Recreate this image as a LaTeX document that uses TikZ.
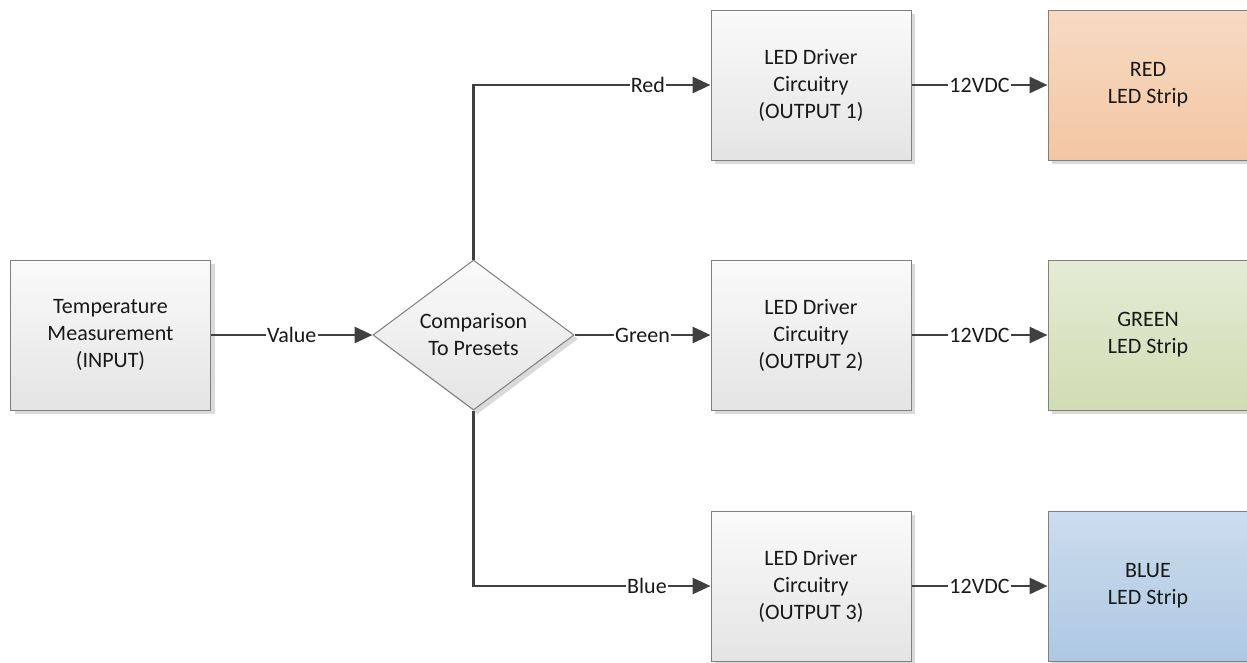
\documentclass[tikz,border=0pt]{standalone}
\usepackage{fontspec}
\setmainfont{Carlito}
\usetikzlibrary{arrows.meta,shapes.geometric,shadows}
\definecolor{linec}{HTML}{404040}
\definecolor{boxborder}{HTML}{7F7F7F}
\definecolor{shadowc}{HTML}{DADADA}
\definecolor{greytop}{HTML}{FAFAFA}
\definecolor{greybot}{HTML}{E4E4E4}
\definecolor{redtop}{HTML}{F8DAC2}
\definecolor{redbot}{HTML}{F2C6A3}
\definecolor{greentop}{HTML}{E4ECD5}
\definecolor{greenbot}{HTML}{D0DCB4}
\definecolor{bluetop}{HTML}{CBDCED}
\definecolor{bluebot}{HTML}{AEC8E2}
\begin{document}
\begin{tikzpicture}[x=0.75pt,y=-0.75pt,
  every node/.style={font=\fontsize{16.5}{20.25}\selectfont, text=black!90},
  box/.style={draw=boxborder, line width=0.75pt, minimum width=150pt, minimum height=112.5pt,
    inner sep=0pt, align=center, top color=greytop, bottom color=greybot,
    general shadow={fill=shadowc, shadow xshift=3pt, shadow yshift=-3pt}},
  strip/.style={box, top color=#1top, bottom color=#1bot},
  decision/.style={diamond, draw=boxborder, line width=0.75pt, aspect=1.34,
    minimum width=150.75pt, minimum height=112.5pt, inner sep=0pt, align=center,
    top color=greytop, bottom color=greybot,
    general shadow={fill=shadowc, shadow xshift=3pt, shadow yshift=-3pt}},
  conn/.style={draw=linec, line width=2.2pt, -{Triangle[length=13.5pt,width=12pt]}},
  lbl/.style={fill=white, inner sep=1pt}]
\fill[white] (0,0) rectangle (1247,662);
\useasboundingbox (0,0) rectangle (1247,662);

\node[box] (temp) at (110.5,335) {Temperature\\Measurement\\(INPUT)};
\node[decision] (cmp) at (473.5,335) {Comparison\\To Presets};

\node[box] (d1) at (811,85) {LED Driver\\Circuitry\\(OUTPUT 1)};
\node[box] (d2) at (811,335) {LED Driver\\Circuitry\\(OUTPUT 2)};
\node[box] (d3) at (811,586) {LED Driver\\Circuitry\\(OUTPUT 3)};

\node[strip=red] (s1) at (1148,85) {RED\\LED Strip};
\node[strip=green] (s2) at (1148,335) {GREEN\\LED Strip};
\node[strip=blue] (s3) at (1148,586) {BLUE\\LED Strip};

\draw[conn] (temp.east) -- node[lbl] {Value} (cmp.west);
\draw[conn] (cmp.north) |- node[lbl, pos=0.868] {Red} (d1.west);
\draw[conn] (cmp.east) -- node[lbl] {Green} (d2.west);
\draw[conn] (cmp.south) |- node[lbl, pos=0.866] {Blue} (d3.west);

\draw[conn] (d1.east) -- node[lbl] {12VDC} (s1.west);
\draw[conn] (d2.east) -- node[lbl] {12VDC} (s2.west);
\draw[conn] (d3.east) -- node[lbl] {12VDC} (s3.west);
\end{tikzpicture}
\end{document}
